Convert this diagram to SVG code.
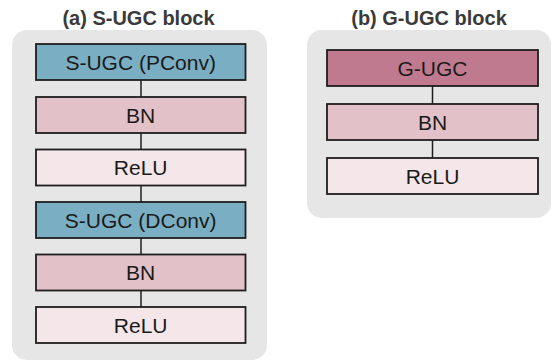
<svg xmlns="http://www.w3.org/2000/svg" width="551" height="362" viewBox="0 0 551 362">
<style>
.panel{fill:#e6e6e6;}
.box{stroke:#1e1e1e;stroke-width:1.8;}
.sugc{fill:#7aaec3;}
.gugc{fill:#c07a90;}
.bn{fill:#e3c1c8;}
.relu{fill:#f4e6e9;}
.lbl{font-family:"Liberation Sans",Arial,sans-serif;font-size:21px;fill:#1a1a1a;text-anchor:middle;}
.title{font-family:"Liberation Sans",Arial,sans-serif;font-size:20px;font-weight:bold;fill:#3a3a3a;text-anchor:middle;}
.conn{stroke:#1e1e1e;stroke-width:1.5;fill:none;}
</style>
<g id="panel-a">
<rect class="panel" x="12" y="30" width="255" height="330" rx="15"/>
<text class="title" x="138.5" y="25">(a) S-UGC block</text>
</g>
<g id="panel-b">
<rect class="panel" x="307" y="30" width="244" height="188" rx="15"/>
<text class="title" x="429" y="25">(b) G-UGC block</text>
</g>
<g id="connectors">
<line class="conn" x1="141" y1="80" x2="141" y2="97"/>
<line class="conn" x1="141" y1="133" x2="141" y2="149.5"/>
<line class="conn" x1="141" y1="185.5" x2="141" y2="202"/>
<line class="conn" x1="141" y1="238" x2="141" y2="254.5"/>
<line class="conn" x1="141" y1="290.5" x2="141" y2="307"/>
<line class="conn" x1="432.5" y1="86" x2="432.5" y2="104"/>
<line class="conn" x1="432.5" y1="140" x2="432.5" y2="158"/>
</g>
<g id="a-sugc-pconv">
<rect class="box sugc" x="36" y="44" width="209.5" height="36"/>
<text class="lbl" x="140.7" y="69.5">S-UGC (PConv)</text>
</g>
<g id="a-bn1">
<rect class="box bn" x="36" y="97" width="209.5" height="36"/>
<text class="lbl" x="140.7" y="122.5">BN</text>
</g>
<g id="a-relu1">
<rect class="box relu" x="36" y="149.5" width="209.5" height="36"/>
<text class="lbl" x="140.7" y="175">ReLU</text>
</g>
<g id="a-sugc-dconv">
<rect class="box sugc" x="36" y="202" width="209.5" height="36"/>
<text class="lbl" x="140.7" y="227.5">S-UGC (DConv)</text>
</g>
<g id="a-bn2">
<rect class="box bn" x="36" y="254.5" width="209.5" height="36"/>
<text class="lbl" x="140.7" y="280">BN</text>
</g>
<g id="a-relu2">
<rect class="box relu" x="36" y="307" width="209.5" height="36"/>
<text class="lbl" x="140.7" y="332.5">ReLU</text>
</g>
<g id="b-gugc">
<rect class="box gugc" x="327" y="50" width="211" height="36"/>
<text class="lbl" x="432.5" y="75.5">G-UGC</text>
</g>
<g id="b-bn">
<rect class="box bn" x="327" y="104" width="211" height="36"/>
<text class="lbl" x="432.5" y="129.5">BN</text>
</g>
<g id="b-relu">
<rect class="box relu" x="327" y="158" width="211" height="36"/>
<text class="lbl" x="432.5" y="183.5">ReLU</text>
</g>
</svg>
